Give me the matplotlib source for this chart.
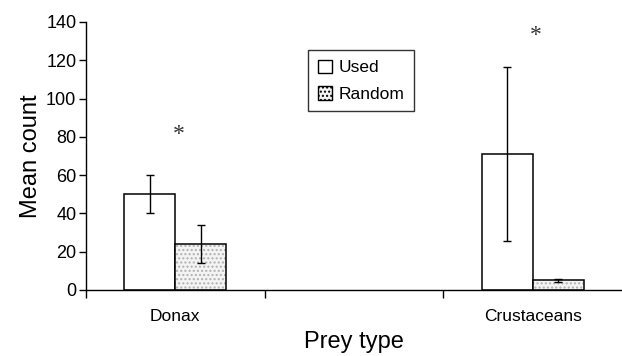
import matplotlib.pyplot as plt
import numpy as np
from matplotlib.patches import Patch

plt.rcParams['font.family'] = ['Liberation Sans', 'DejaVu Sans']

categories = ["Donax", "", "Crustaceans"]
used = [50, 0, 71]
used_err = [10, 0, 45.5]
random_vals = [24, 0, 5]
random_err = [9.7, 0, 0.8]
shown = [0, 2]  # categories that have bars
stars = [(0, 81), (2, 133)]  # (category, y) for significance asterisks

fig = plt.figure(figsize=(6.22, 3.56), dpi=100)
ax = fig.add_axes([86 / 622, 66 / 356, 536 / 622, 268 / 356])

w = 0.285
centers = np.arange(len(categories)) + 0.5
idx = np.array(shown)
uv = np.array(used)[idx]
rv = np.array(random_vals)[idx]

# used bars
ax.bar(centers[idx] - w / 2, uv, w, facecolor="white", edgecolor="black",
       linewidth=1.1, zorder=2)
# random bars: dotted fill then outline
ax.bar(centers[idx] + w / 2, rv, w, facecolor="#f4f4f4", edgecolor="#b0b0b0",
       hatch="....", linewidth=0, zorder=2)
ax.bar(centers[idx] + w / 2, rv, w, facecolor="none", edgecolor="black",
       linewidth=1.1, zorder=3)

ax.errorbar(centers[idx] - w / 2, uv, yerr=np.array(used_err)[idx], fmt="none",
            ecolor="black", elinewidth=1, capsize=3, capthick=1, zorder=4)
ax.errorbar(centers[idx] + w / 2, rv, yerr=np.array(random_err)[idx], fmt="none",
            ecolor="black", elinewidth=1, capsize=3, capthick=1, zorder=4)

for c, y in stars:
    ax.text(centers[c] + 0.02, y, "*", ha="center", va="center", fontsize=17,
            family="Liberation Serif", color="#333333")

h_used = Patch(facecolor="white", edgecolor="black", linewidth=1)
h_rand = Patch(facecolor="#f4f4f4", edgecolor="black", hatch="....", linewidth=1)
leg = ax.legend([h_used, h_rand], ["Used", "Random"], loc="upper left",
                bbox_to_anchor=(222 / 536, 240 / 268), fontsize=12.5,
                frameon=True, fancybox=False, handlelength=0.85, handleheight=0.85,
                handletextpad=0.35, borderpad=0.55, labelspacing=0.6,
                borderaxespad=0)
leg.get_frame().set_edgecolor("black")
leg.get_frame().set_linewidth(1)

ax.set_xlim(0, 3)
ax.set_ylim(0, 140)
ax.set_yticks(np.arange(0, 141, 20))
ax.set_xticks([0, 1, 2])
ax.set_xticklabels([])
ax.set_xticks(centers, categories, minor=True)
ax.tick_params(axis="x", which="minor", length=0, pad=14, labelsize=12.5)
ax.tick_params(axis="x", which="major", direction="out", length=6, width=1)
ax.tick_params(axis="y", direction="out", length=5, width=1, labelsize=13, pad=2)

for s in ["top", "right"]:
    ax.spines[s].set_visible(False)
ax.spines["left"].set_linewidth(1)
ax.spines["bottom"].set_linewidth(1)

ax.set_ylabel("Mean count", fontsize=17, labelpad=3)
ax.set_xlabel("Prey type", fontsize=17, labelpad=5)

fig.savefig("out.png", dpi=100)
